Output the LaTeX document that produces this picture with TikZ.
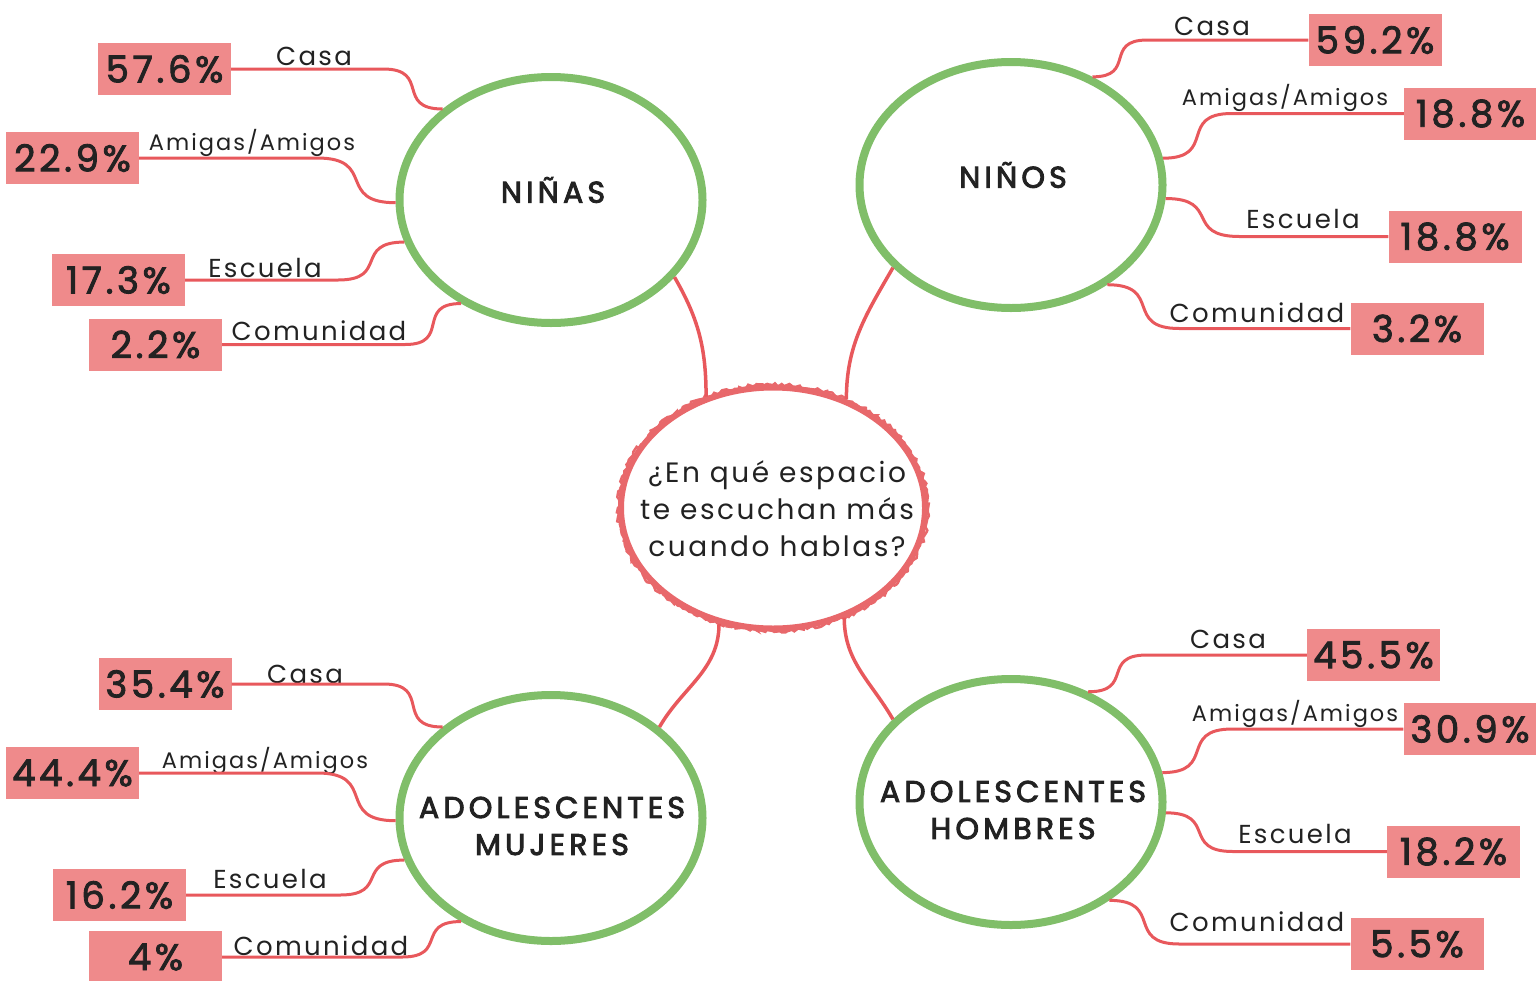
\documentclass[tikz,border=0pt]{standalone}
\usepackage{fontspec}
\setmainfont{Poppins}
\newfontfamily\lblfont{Poppins}[LetterSpace=9]
\newfontfamily\pctfont{Poppins}[LetterSpace=10,FakeBold=2.4]
\newfontfamily\headfont{Poppins}[LetterSpace=14,FakeBold=3]
\usetikzlibrary{shapes.geometric,decorations.pathmorphing}
\definecolor{ringgreen}{HTML}{80BE69}
\definecolor{linered}{HTML}{E8585C}
\definecolor{boxpink}{HTML}{EF8A8B}
\definecolor{hubred}{HTML}{E8686B}
\definecolor{ink}{HTML}{222222}
\begin{document}
\begin{tikzpicture}[x=1pt,y=-1pt]
  \tikzset{
    ring/.style={ellipse,draw=ringgreen,line width=8pt,minimum width=303pt,minimum height=246pt,inner sep=0pt},
    hub/.style={ellipse,draw=hubred,line width=6pt,minimum width=304pt,minimum height=241pt,inner sep=0pt},
    ask/.style={align=center,inner sep=0pt,text=ink,font=\lblfont\fontsize{28}{37}\selectfont},
    pct/.style={fill=boxpink,minimum width=133pt,minimum height=52pt,inner sep=0pt,text=ink,
      font=\pctfont\fontsize{37}{40}\selectfont},
    lbl/.style={anchor=base,inner sep=0pt,text=ink,font=\lblfont\fontsize{26}{30}\selectfont},
    lblsmall/.style={lbl,font=\lblfont\fontsize{22.5}{26}\selectfont},
    title/.style={align=center,inner sep=0pt,text=ink,font=\headfont\fontsize{30}{37}\selectfont},
    leaf/.style={draw=linered,line width=3pt,looseness=1.7},
    stem/.style={draw=linered,line width=3.5pt}
  }
  \useasboundingbox (0,0) rectangle (1536,980);

  \node[ring] (ninas) at (551,200) {};
  \node[ring] (ninos) at (1011,185) {};
  \node[ring] (mujeres) at (551,818) {};
  \node[ring] (hombres) at (1011,802) {};
  \node[title] (t-ninas) at (553,190) {NIÑAS};
  \node[title] (t-ninos) at (1013,175) {NIÑOS};
  \node[title] (t-mujeres) at (552,826) {ADOLESCENTES\\MUJERES};
  \node[title] (t-hombres) at (1013,810) {ADOLESCENTES\\HOMBRES};

  \node[hub] (hub) at (773,508) {};
  \draw[hubred,line width=2.5pt,decorate,decoration={random steps,segment length=3pt,amplitude=1.8pt}]
    (hub.center) ellipse[x radius=155,y radius=123];
  \node[ask] (question) at (777,509) {¿En qué espacio\\te escuchan más\\cuando hablas?};

  \draw[stem] (hub.121) to[out=90,in=-60] (ninas.-32);
  \draw[stem] (hub.56) to[out=90,in=-120] (ninos.215);
  \draw[stem] (hub.245) to[out=-90,in=60] (mujeres.40);
  \draw[stem] (hub.-57) to[out=-90,in=120] (hombres.145);

  \node[pct] (p11) at (164.5,69) {57.6\%};
  \node[pct] (p12) at (72.5,158) {22.9\%};
  \node[pct] (p13) at (118.5,280) {17.3\%};
  \node[pct] (p14) at (155.5,344.5) {2.2\%};
  \node[lbl] (l11) at (314,65) {Casa};
  \node[lblsmall] (l12) at (252,150) {Amigas/Amigos};
  \node[lbl] (l13) at (265,277) {Escuela};
  \node[lbl] (l14) at (319,340) {Comunidad};
  \draw[leaf] (ninas.140) to[out=180,in=0] ([xshift=152pt]p11.east) -- (p11.east);
  \draw[leaf] (ninas.181) to[out=180,in=0] ([xshift=178pt]p12.east) -- (p12.east);
  \draw[leaf] (ninas.196) to[out=180,in=0] ([xshift=153pt]p13.east) -- (p13.east);
  \draw[leaf] (ninas.229) to[out=180,in=0] ([xshift=183pt]p14.east) -- (p14.east);

  \node[pct] (p21) at (1375,40) {59.2\%};
  \node[pct] (p22) at (1470.5,113.5) {18.8\%};
  \node[pct] (p23) at (1455,236.5) {18.8\%};
  \node[pct] (p24) at (1417,328.5) {3.2\%};
  \node[lbl] (l21) at (1212,35) {Casa};
  \node[lblsmall] (l22) at (1285,105) {Amigas/Amigos};
  \node[lbl] (l23) at (1303,228) {Escuela};
  \node[lbl] (l24) at (1257,322) {Comunidad};
  \draw[leaf] (ninos.53) to[out=0,in=180] ([xshift=-161pt]p21.west) -- (p21.west);
  \draw[leaf] (ninos.10) to[out=0,in=180] ([xshift=-172pt]p22.west) -- (p22.west);
  \draw[leaf] (ninos.-5) to[out=0,in=180] ([xshift=-149pt]p23.west) -- (p23.west);
  \draw[leaf] (ninos.-46) to[out=0,in=180] ([xshift=-171pt]p24.west) -- (p24.west);

  \node[pct] (p31) at (165,684) {35.4\%};
  \node[pct] (p32) at (72.5,773) {44.4\%};
  \node[pct] (p33) at (119.5,895) {16.2\%};
  \node[pct] (p34) at (155.5,957) {4\%};
  \node[lbl] (l31) at (305,683) {Casa};
  \node[lblsmall] (l32) at (265,768) {Amigas/Amigos};
  \node[lbl] (l33) at (270,888) {Escuela};
  \node[lbl] (l34) at (321,955) {Comunidad};
  \draw[leaf] (mujeres.140) to[out=180,in=0] ([xshift=152pt]p31.east) -- (p31.east);
  \draw[leaf] (mujeres.181) to[out=180,in=0] ([xshift=178pt]p32.east) -- (p32.east);
  \draw[leaf] (mujeres.196) to[out=180,in=0] ([xshift=154pt]p33.east) -- (p33.east);
  \draw[leaf] (mujeres.229) to[out=180,in=0] ([xshift=180pt]p34.east) -- (p34.east);

  \node[pct] (p41) at (1373.5,655) {45.5\%};
  \node[pct] (p42) at (1470,729) {30.9\%};
  \node[pct] (p43) at (1453.5,851.5) {18.2\%};
  \node[pct] (p44) at (1417,944) {5.5\%};
  \node[lbl] (l41) at (1228,648) {Casa};
  \node[lblsmall] (l42) at (1295,721) {Amigas/Amigos};
  \node[lbl] (l43) at (1295,843) {Escuela};
  \node[lbl] (l44) at (1257,931) {Comunidad};
  \draw[leaf] (hombres.55) to[out=0,in=180] ([xshift=-160pt]p41.west) -- (p41.west);
  \draw[leaf] (hombres.11) to[out=0,in=180] ([xshift=-171pt]p42.west) -- (p42.west);
  \draw[leaf] (hombres.-4) to[out=0,in=180] ([xshift=-154pt]p43.west) -- (p43.west);
  \draw[leaf] (hombres.-45) to[out=0,in=180] ([xshift=-171pt]p44.west) -- (p44.west);
\end{tikzpicture}
\end{document}
